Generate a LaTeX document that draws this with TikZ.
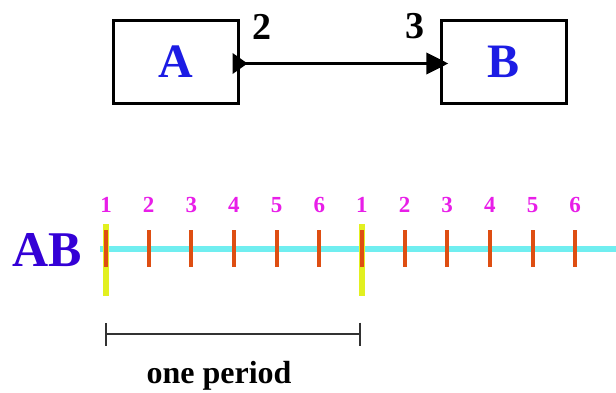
\documentclass[tikz,border=0pt]{standalone}
\usepackage{fontspec}
\setmainfont{Liberation Serif}
\usetikzlibrary{arrows.meta}
\definecolor{letterblue}{RGB}{28,28,228}
\definecolor{abblue}{RGB}{52,0,214}
\definecolor{numpink}{RGB}{232,30,232}
\definecolor{axiscyan}{RGB}{112,238,240}
\definecolor{tickorange}{RGB}{222,78,18}
\definecolor{markyellow}{RGB}{226,240,32}
\definecolor{spangray}{RGB}{50,50,50}
\begin{document}
\begin{tikzpicture}[x=1pt,y=-1pt,
  block/.style={draw, line width=2.2pt, minimum width=125pt, minimum height=83pt,
    inner sep=0pt, text=letterblue, font=\bfseries\fontsize{48}{48}\selectfont},
  link/.style={line width=3.6pt,
    {Triangle[reversed,length=15pt,width=20pt]}-{Triangle[length=22pt,width=21pt]}},
  portlabel/.style={font=\bfseries\fontsize{38}{38}\selectfont, inner sep=0pt},
  axis/.style={axiscyan, line width=6pt},
  tickmark/.style={tickorange, line width=4pt},
  periodmark/.style={markyellow, line width=6.5pt},
  ticknum/.style={text=numpink, font=\bfseries\fontsize{23}{23}\selectfont,
    anchor=base, inner sep=0pt},
  span/.style={spangray, line width=2pt,
    {Bar[width=23pt,line width=2pt]}-{Bar[width=23pt,line width=2pt]}}]
\useasboundingbox (0,0) rectangle (616,393);

% the two blocks and the connection between them
\node[block] (A) at (176,62) {A};
\node[block] (B) at (504,62) {B};
\draw[link] ([xshift=-7pt,yshift=-1.5pt]A.east) -- ([xshift=8pt,yshift=-1.5pt]B.west);
\node[portlabel] (p2) at (262,27) {2};
\node[portlabel] (p3) at (415,26) {3};

% time axis of the pair
\node[text=abblue, font=\bfseries\fontsize{50}{50}\selectfont, inner sep=0pt] (AB) at (47,250) {AB};
\draw[axis] (100,249) -- (616,249);
\foreach \x in {106,362}
  \draw[periodmark] (\x,224) -- (\x,296);
\foreach \n [count=\i from 0] in {1,2,3,4,5,6,1,2,3,4,5,6} {
  \pgfmathsetmacro{\tx}{106+42.65*\i}
  \draw[tickmark] (\tx,230) -- (\tx,267);
  \node[ticknum] (t\i) at (\tx,212) {\n};
}

% length of one period
\coordinate (s0) at (105,334);
\coordinate (s1) at (361,334);
\draw[span] (s0) -- (s1);
\node[font=\bfseries\fontsize{32}{32}\selectfont, inner sep=0pt] (per) at (219,376) {one period};
\end{tikzpicture}
\end{document}
